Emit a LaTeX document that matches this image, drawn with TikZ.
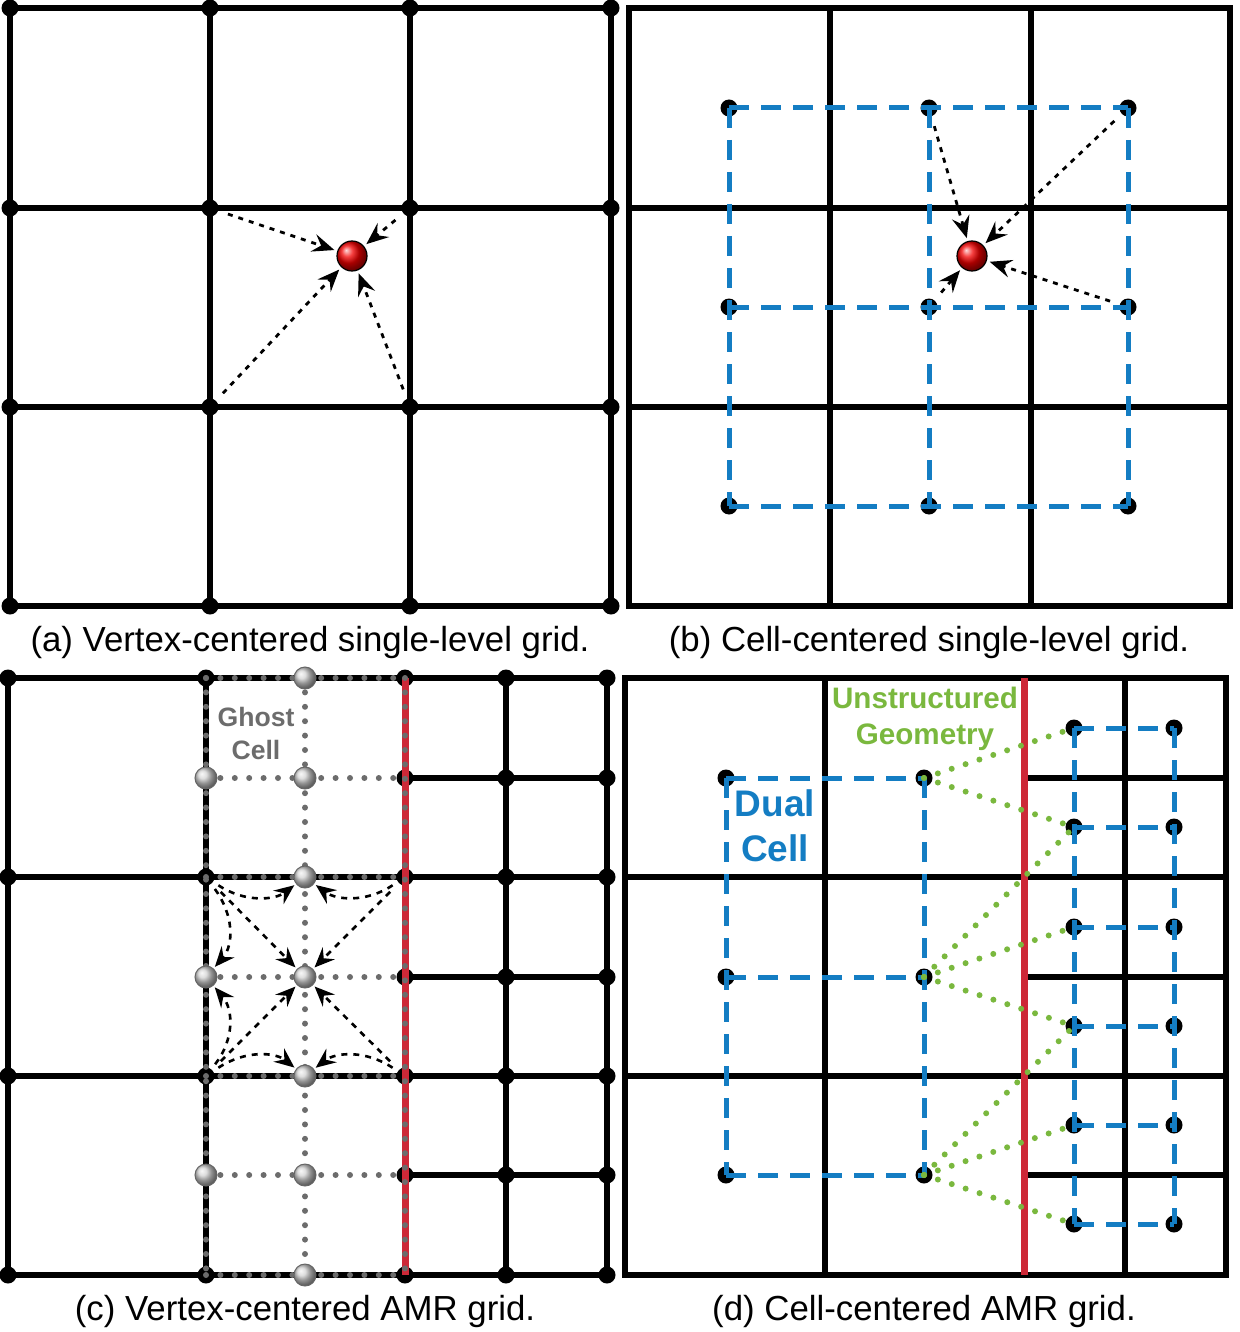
\documentclass[tikz,border=0pt]{standalone}
\usepackage{fontspec}
\setmainfont{Liberation Sans}
\usetikzlibrary{arrows.meta,shadings}
\definecolor{dblue}{RGB}{20,125,195}
\definecolor{dgreen}{RGB}{122,184,62}
\definecolor{dred}{RGB}{205,40,55}
\definecolor{dgray}{RGB}{108,108,108}
\tikzset{
  gridline/.style={line width=3pt, black},
  redline/.style={line width=3.5pt, dred},
  vdot/.style={circle, fill=black, inner sep=0pt, minimum size=8.5pt},
  bluedash/.style={line width=2.5pt, dblue, dash pattern=on 10pt off 6pt},
  graydot/.style={line width=3pt, dgray, line cap=round, dash pattern=on 0pt off 7.2pt},
  greendot/.style={line width=3pt, dgreen, line cap=round, dash pattern=on 0pt off 7.3pt},
  redball/.style={circle, inner sep=0pt, minimum size=15pt, shade, ball color=red!95!black, draw=black, line width=0.6pt},
  grayball/.style={circle, inner sep=0pt, minimum size=11pt, shade, ball color=gray!35, draw=black!60, line width=0.5pt},
  dotarrow/.style={-{Stealth[length=11pt,width=9pt,inset=4pt]}, line width=1.4pt, dash pattern=on 2.5pt off 3pt, shorten <=5pt, shorten >=1.5pt},
  dasharrow/.style={-{Stealth[length=10pt,width=8.5pt,inset=3.5pt]}, line width=1.3pt, dash pattern=on 3pt off 3pt, shorten <=3pt, shorten >=1pt},
  caption/.style={font=\fontsize{17.4}{20}\selectfont, inner sep=0pt},
  ghostlabel/.style={font=\fontsize{13.3}{16.5}\selectfont\bfseries, text=dgray, align=center, inner sep=0pt},
  duallabel/.style={font=\fontsize{18.5}{22.5}\selectfont\bfseries, text=dblue, align=center, inner sep=0pt},
  geomlabel/.style={font=\fontsize{14.8}{18}\selectfont\bfseries, text=dgreen, align=center, inner sep=0pt},
}
\begin{document}
\begin{tikzpicture}[x=0.5pt,y=-0.5pt]
\useasboundingbox (0,0) rectangle (1239,1332);
% ---------------- panel (a)
\draw[gridline] (10,8) rectangle (611,606);
\foreach \x in {210,410} \draw[gridline] (\x,8) -- (\x,606);
\foreach \y in {208,407} \draw[gridline] (10,\y) -- (611,\y);
\foreach \x [count=\i] in {10,210,410,611}
  \foreach \y [count=\j] in {8,208,407,606}
    \node[vdot] (a\i\j) at (\x,\y) {};
\node[redball] (ra) at (352,256) {};
\foreach \s in {a22,a32,a23,a33} \draw[dotarrow] (\s) -- (ra);
\node[caption] (capa) at (310,642) {(a) Vertex-centered single-level grid.};
% ---------------- panel (b)
\draw[gridline] (629,8) rectangle (1230,606);
\foreach \x in {830,1031} \draw[gridline] (\x,8) -- (\x,606);
\foreach \y in {208,407} \draw[gridline] (629,\y) -- (1230,\y);
\foreach \x [count=\i] in {729,929,1128}
  \foreach \y [count=\j] in {108,307,506}
    \node[vdot] (b\i\j) at (\x,\y) {};
\foreach \j in {1,2,3} \draw[bluedash] (b1\j.center) -- (b3\j.center);
\foreach \i in {1,2,3} \draw[bluedash] (b\i1.center) -- (b\i3.center);
\node[redball] (rb) at (972,256) {};
\foreach \s in {b21,b31,b22,b32} \draw[dotarrow] (\s) -- (rb);
\node[caption] (capb) at (929,642) {(b) Cell-centered single-level grid.};
% ---------------- panel (c)
\draw[gridline] (8,678) rectangle (607,1275);
\foreach \x in {206,405,506} \draw[gridline] (\x,678) -- (\x,1275);
\foreach \y in {877,1076} \draw[gridline] (8,\y) -- (607,\y);
\foreach \y in {778,977,1175} \draw[gridline] (405,\y) -- (607,\y);
\foreach \x [count=\i] in {8,206}
  \foreach \y [count=\j] in {678,877,1076,1275}
    \node[vdot] (cc\i\j) at (\x,\y) {};
\foreach \x [count=\i] in {405,506,607}
  \foreach \y [count=\j] in {678,778,877,977,1076,1175,1275}
    \node[vdot] (cf\i\j) at (\x,\y) {};
\draw[redline] (405,678) -- (405,1275);
\foreach \x in {206,305,405} \draw[graydot] (\x,678) -- (\x,1275);
\foreach \y in {678,778,877,977,1076,1175,1275} \draw[graydot] (206,\y) -- (405,\y);
\foreach \y [count=\j] in {678,778,877,977,1076,1175,1275}
  \node[grayball] (g\j) at (305,\y) {};
\foreach \y [count=\j] in {778,977,1175}
  \node[grayball] (gl\j) at (206,\y) {};
\node[ghostlabel] (ghost) at (256,733) {Ghost\\Cell};
% arrows in the coarse cell
\draw[dasharrow] (cc22) .. controls (245,903) and (275,900) .. (g3);
\draw[dasharrow] (cf13) .. controls (366,903) and (336,900) .. (g3);
\draw[dasharrow] (cc22) .. controls (234,915) and (234,945) .. (gl2);
\draw[dasharrow] (cc23) .. controls (234,1040) and (234,1010) .. (gl2);
\draw[dasharrow] (cc23) .. controls (245,1050) and (275,1052) .. (g5);
\draw[dasharrow] (cf15) .. controls (366,1050) and (336,1052) .. (g5);
\foreach \s in {cc22,cf13,cc23,cf15} \draw[dasharrow, shorten <=6pt] (\s) -- (g4);
\node[caption] (capc) at (305,1311) {(c) Vertex-centered AMR grid.};
% ---------------- panel (d)
\draw[gridline] (625,678) rectangle (1226,1275);
\foreach \x in {825,1125} \draw[gridline] (\x,678) -- (\x,1275);
\foreach \y in {877,1076} \draw[gridline] (625,\y) -- (1226,\y);
\foreach \y in {778,977,1175} \draw[gridline] (1024,\y) -- (1226,\y);
\draw[redline] (1024,678) -- (1024,1275);
\foreach \x [count=\i] in {726,924}
  \foreach \y [count=\j] in {778,977,1175}
    \node[vdot] (d\i\j) at (\x,\y) {};
\foreach \x [count=\i] in {1074,1174}
  \foreach \y [count=\j] in {728,827,927,1026,1125,1224}
    \node[vdot] (e\i\j) at (\x,\y) {};
\foreach \j in {1,2,3} \draw[bluedash] (d1\j.center) -- (d2\j.center);
\foreach \i in {1,2} \draw[bluedash] (d\i1.center) -- (d\i3.center);
\foreach \j in {1,...,6} \draw[bluedash] (e1\j.center) -- (e2\j.center);
\foreach \i in {1,2} \draw[bluedash] (e\i1.center) -- (e\i6.center);
\foreach \a/\b in {d21/e11,d21/e12,d22/e12,d22/e13,d22/e14,d23/e14,d23/e15,d23/e16}
  \draw[greendot] (\a.center) -- (\b.center);
\node[duallabel] (dual) at (775,826) {Dual\\Cell};
\node[geomlabel] (geom) at (925,719) {Unstructured\\Geometry};
\node[caption] (capd) at (924,1311) {(d) Cell-centered AMR grid.};
\end{tikzpicture}
\end{document}
